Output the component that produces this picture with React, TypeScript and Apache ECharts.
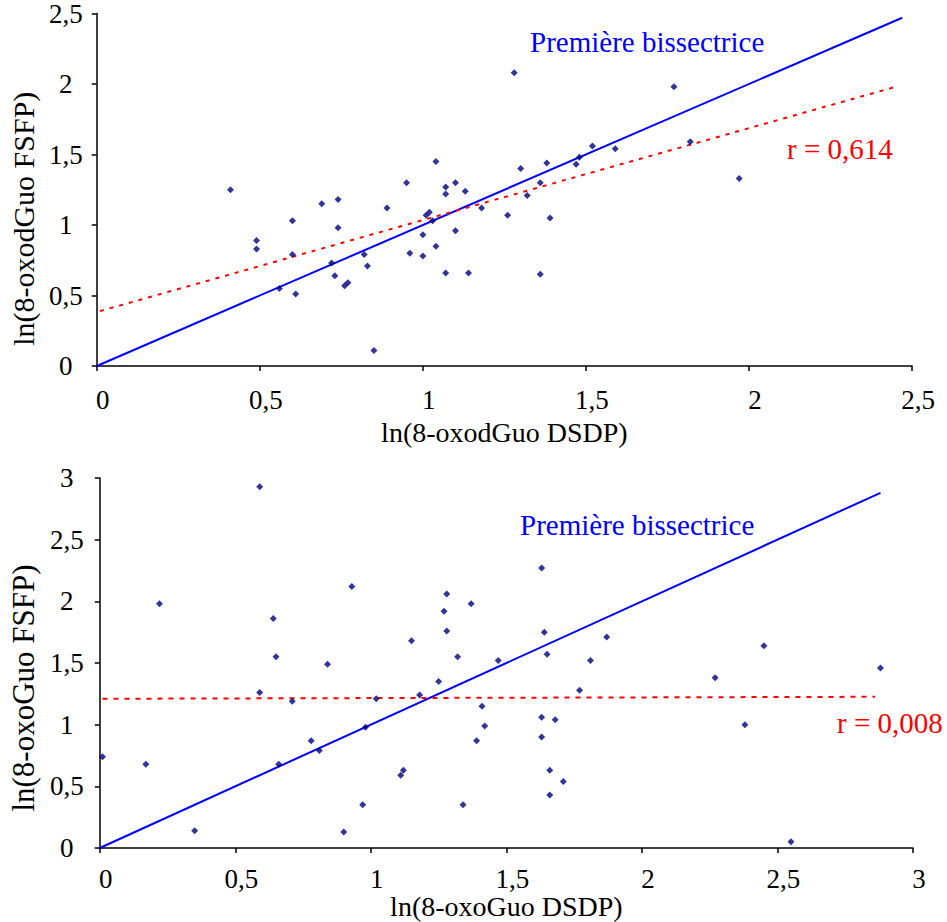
import React, { useEffect, useRef } from "react";
import * as echarts from "echarts";

// Top chart: ln(8-oxodGuo DSDP) vs ln(8-oxodGuo FSFP)
const topDsdp = [0.41, 0.49, 0.49, 0.56, 0.60, 0.60, 0.61, 0.69, 0.74, 0.74, 0.72, 0.73, 0.76, 0.77, 0.82, 0.83, 0.85, 0.89, 0.95, 0.96,
  1.00, 1.00, 1.01, 1.02, 1.03, 1.04, 1.04, 1.07, 1.07, 1.07, 1.10, 1.10, 1.13, 1.14, 1.18, 1.26, 1.28, 1.30, 1.32, 1.36,
  1.36, 1.38, 1.39, 1.47, 1.48, 1.52, 1.59, 1.77, 1.82, 1.97];
const topFsfp = [1.25, 0.89, 0.83, 0.55, 1.03, 0.79, 0.51, 1.15, 1.18, 0.98, 0.73, 0.64, 0.57, 0.59, 0.79, 0.71, 0.11, 1.12, 1.30, 0.80,
  0.93, 0.78, 1.07, 1.09, 1.03, 1.45, 0.85, 1.27, 1.22, 0.66, 1.30, 0.96, 1.24, 0.66, 1.12, 1.07, 2.08, 1.40, 1.21, 1.30,
  0.65, 1.44, 1.05, 1.43, 1.48, 1.56, 1.54, 1.98, 1.59, 1.33];
const topBisector = [[0, 0], [2.47, 2.47]];
const topRegression = [[-0.02, 0.37], [2.45, 1.98]];
const topTicks = { min: 0, max: 2.5, interval: 0.5 };
const topR = "r = 0,614";

// Bottom chart: ln(8-oxoGuo DSDP) vs ln(8-oxoGuo FSFP)
const bottomDsdp = [0.01, 0.17, 0.22, 0.35, 0.59, 0.59, 0.64, 0.65, 0.66, 0.71, 0.78, 0.81, 0.84, 0.90, 0.93, 0.97, 0.98, 1.02, 1.11, 1.12,
  1.15, 1.18, 1.25, 1.27, 1.28, 1.28, 1.32, 1.34, 1.37, 1.39, 1.41, 1.42, 1.47, 1.63, 1.63, 1.63, 1.64, 1.65, 1.66, 1.66,
  1.68, 1.71, 1.77, 1.81, 1.87, 2.27, 2.38, 2.45, 2.55, 2.88];
const bottomFsfp = [0.74, 0.68, 1.98, 0.14, 2.93, 1.26, 1.86, 1.55, 0.68, 1.19, 0.87, 0.79, 1.49, 0.13, 2.12, 0.35, 0.98, 1.21, 0.59, 0.63,
  1.68, 1.24, 1.35, 1.92, 2.06, 1.76, 1.55, 0.35, 1.98, 0.87, 1.15, 0.99, 1.52, 2.27, 1.06, 0.90, 1.75, 1.57, 0.63, 0.43,
  1.04, 0.54, 1.28, 1.52, 1.71, 1.38, 1.00, 1.64, 0.05, 1.46];
const bottomBisector = [[0, 0], [2.88, 2.88]];
const bottomRegression = [[0.01, 1.21], [2.86, 1.226]];
const bottomTicks = { min: 0, max: 3, interval: 0.5 };
const bottomR = "r = 0,008";

const bisectorLabel = "Première bissectrice";

const FONT = "'Liberation Serif', 'Times New Roman', Times, serif";
const fmt = (v: number) => String(v).replace(".", ",");

function xAxisCfg(gridIndex: number, ticks: any, name: string, labelMargin: number, nameGap: number) {
  return {
    type: "value",
    gridIndex,
    min: ticks.min,
    max: ticks.max,
    interval: ticks.interval,
    name,
    nameLocation: "middle",
    nameGap,
    nameTextStyle: { fontFamily: FONT, fontSize: 28, color: "#000" },
    axisLine: { show: true, onZero: false, lineStyle: { color: "#000", width: 1.5 } },
    axisTick: { show: true, inside: false, length: 5, lineStyle: { color: "#000", width: 1.5 } },
    splitLine: { show: false },
    axisLabel: {
      formatter: fmt,
      fontFamily: FONT,
      fontSize: 27,
      color: "#000",
      margin: labelMargin,
      align: "center",
      padding: [0, 0, 0, 12],
      showMinLabel: true,
      showMaxLabel: true,
    },
  };
}

function yAxisCfg(gridIndex: number, ticks: any, name: string, labelMargin: number, padTop: number, nameShift: number, nameSize: number) {
  return {
    type: "value",
    gridIndex,
    min: ticks.min,
    max: ticks.max,
    interval: ticks.interval,
    name,
    nameLocation: "middle",
    nameGap: 53,
    nameRotate: 90,
    nameTextStyle: { fontFamily: FONT, fontSize: nameSize, color: "#000", padding: [0, nameShift, 0, 0] },
    axisLine: { show: true, onZero: false, lineStyle: { color: "#000", width: 1.5 } },
    axisTick: { show: true, inside: false, length: 5, lineStyle: { color: "#000", width: 1.5 } },
    splitLine: { show: false },
    axisLabel: {
      formatter: fmt,
      fontFamily: FONT,
      fontSize: 27,
      color: "#000",
      margin: labelMargin,
      align: "center",
      verticalAlign: "middle",
      padding: [padTop, 0, 0, 0],
      showMinLabel: true,
      showMaxLabel: true,
    },
  };
}

function scatterSeries(idx: number, xs: number[], ys: number[]) {
  return {
    type: "scatter",
    xAxisIndex: idx,
    yAxisIndex: idx,
    data: xs.map((x, i) => [x, ys[i]]),
    symbol: "diamond",
    symbolSize: 7,
    itemStyle: { color: "#000080" },
    clip: false,
    z: 5,
  };
}

function lineSeries(idx: number, data: number[][], color: string, type: any, width: number) {
  return {
    type: "line",
    xAxisIndex: idx,
    yAxisIndex: idx,
    data,
    showSymbol: false,
    symbol: "none",
    clip: false,
    lineStyle: { color, width, type },
    z: 3,
  };
}

export default function App() {
  const ref = useRef<HTMLDivElement>(null);
  useEffect(() => {
    document.body.style.margin = "0";
    if (!ref.current) return;
    const chart = echarts.init(ref.current, null, { renderer: "svg" });
    chart.setOption({
      animation: false,
      backgroundColor: "#fff",
      grid: [
        { left: 95, top: 8, width: 817, height: 358, containLabel: false },
        { left: 95, top: 478, width: 818, height: 370, containLabel: false },
      ],
      xAxis: [
        xAxisCfg(0, topTicks, "ln(8-oxodGuo DSDP)", 20, 52),
        xAxisCfg(1, bottomTicks, "ln(8-oxoGuo DSDP)", 17, 44),
      ],
      yAxis: [
        yAxisCfg(0, topTicks, "ln(8-oxodGuo FSFP)", 31, 20, 58, 30),
        yAxisCfg(1, bottomTicks, "ln(8-oxoGuo FSFP)", 33, 22, 50, 31),
      ],
      series: [
        lineSeries(0, topBisector, "#0000FF", "solid", 2),
        lineSeries(0, topRegression, "#FF0000", [4, 6], 2),
        scatterSeries(0, topDsdp, topFsfp),
        lineSeries(1, bottomBisector, "#0000FF", "solid", 2),
        lineSeries(1, bottomRegression, "#FF0000", [5, 6], 2),
        scatterSeries(1, bottomDsdp, bottomFsfp),
      ],
      graphic: [
        { type: "text", x: 530, y: 42, style: { text: bisectorLabel, fill: "#0000FF", fontFamily: FONT, fontSize: 29, align: "left", verticalAlign: "middle" } },
        { type: "text", x: 787, y: 149, style: { text: topR, fill: "#FF0000", fontFamily: FONT, fontSize: 29, align: "left", verticalAlign: "middle" } },
        { type: "text", x: 520, y: 525, style: { text: bisectorLabel, fill: "#0000FF", fontFamily: FONT, fontSize: 29, align: "left", verticalAlign: "middle" } },
        { type: "text", x: 837, y: 723, style: { text: bottomR, fill: "#FF0000", fontFamily: FONT, fontSize: 29, align: "left", verticalAlign: "middle" } },
      ],
    });
    return () => chart.dispose();
  }, []);
  return <div ref={ref} style={{ width: 947, height: 922 }} />;
}
